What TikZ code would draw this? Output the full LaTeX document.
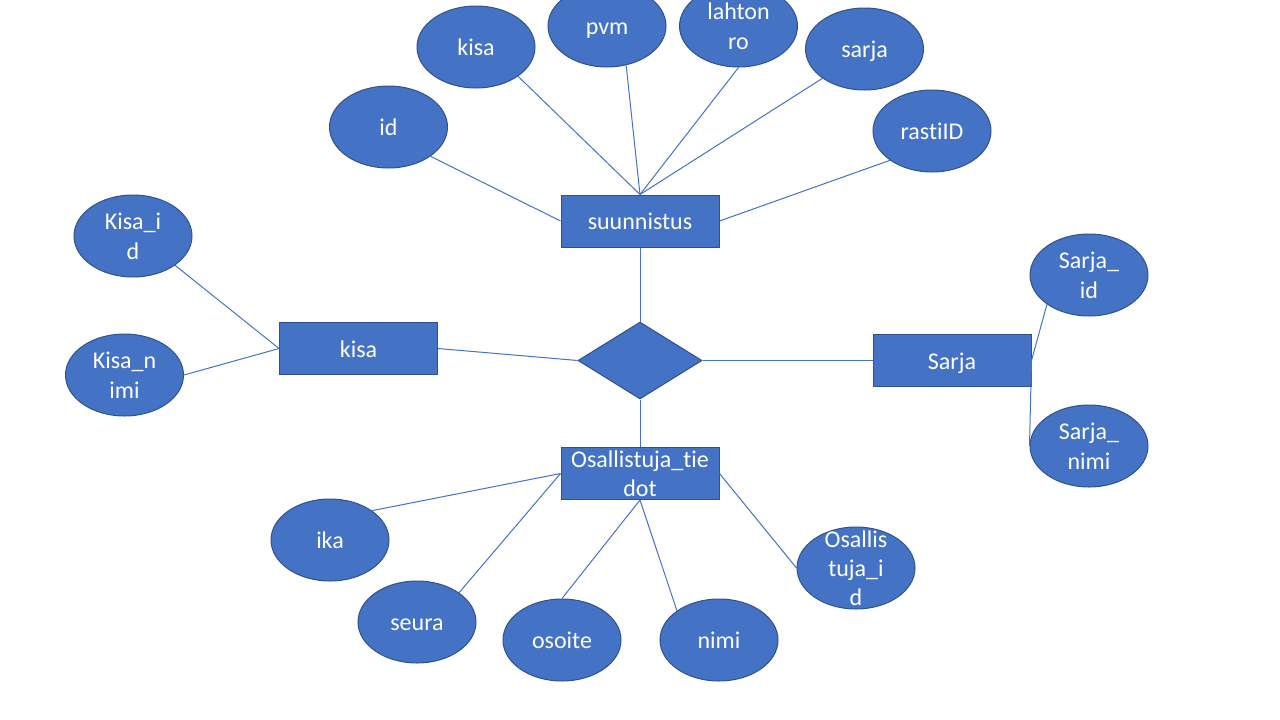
\documentclass[tikz,border=0pt]{standalone}
\usepackage{fontspec}
\setmainfont[Ligatures=NoCommon]{Carlito}
\usetikzlibrary{shapes.geometric}
\definecolor{pptblue}{HTML}{4472C4}
\definecolor{pptedge}{HTML}{2F528F}
\newcommand{\mystrut}{\rule[-5.4pt]{0pt}{22pt}}
\tikzset{
  txt/.style={text=white, font=\fontsize{24}{29.3}\selectfont, align=center, inner sep=0pt, yshift=-3pt},
  attr/.style={ellipse, draw=pptedge, fill=pptblue, line width=1pt, inner sep=0pt,
               minimum width=118pt, minimum height=82pt, label={[txt]center:#1}},
  ent/.style={rectangle, draw=pptedge, fill=pptblue, line width=1pt, inner sep=0pt,
              minimum width=158pt, minimum height=52pt, label={[txt]center:#1}},
  relbox/.style={diamond, draw=pptedge, fill=pptblue, line width=1pt, inner sep=0pt,
                 minimum width=124pt, minimum height=77pt},
  conn/.style={draw=pptblue, line width=1pt}
}
\begin{document}
\begin{tikzpicture}[x=1pt, y=-1pt]
\useasboundingbox (0,0) rectangle (1280,720);
\fill[white] (0,0) rectangle (1280,720);
\clip (0,0) rectangle (1280,720);

% entities and relationship
\node[ent={\mystrut suunnistus}] (s) at (640,221) {};
\node[relbox] (rel) at (640,360.5) {};
\node[ent={\mystrut kisa}] (kisa) at (358.5,348.5) {};
\node[ent={\mystrut Sarja}] (sarja) at (952,360.5) {};
\node[ent={\mystrut Osallistuja\_tie\\\mystrut dot}] (os) at (640,473.5) {};

% attributes
\node[attr={\mystrut id}] (id) at (388.5,127) {};
\node[attr={\mystrut kisa}] (kisaA) at (476,47) {};
\node[attr={\mystrut pvm}] (pvm) at (607,26) {};
\node[attr={\mystrut lahton\\\mystrut ro}] (lahto) at (738.5,26) {};
\node[attr={\mystrut sarja}] (sarjaA) at (864.5,49) {};
\node[attr={\mystrut rastiID}] (rasti) at (932,131) {};
\node[attr={\mystrut Kisa\_i\\\mystrut d}] (kid) at (133,236) {};
\node[attr={\mystrut Kisa\_n\\\mystrut imi}] (knimi) at (124.5,375) {};
\node[attr={\mystrut Sarja\_\\\mystrut id}] (sid) at (1089,275) {};
\node[attr={\mystrut Sarja\_\\\mystrut nimi}] (snimi) at (1089,446) {};
\node[attr={\mystrut ika}] (ika) at (330,540) {};
\node[attr={\mystrut seura}] (seura) at (417,622) {};
\node[attr={\mystrut osoite}] (osoite) at (562,640) {};
\node[attr={\mystrut nimi}] (nimi) at (719,640) {};
\node[attr={\mystrut Osallis\\\mystrut tuja\_i\\\mystrut d}] (oid) at (856,568) {};

% connectors
\draw[conn] (id.south east) -- (s.west);
\draw[conn] (kisaA.south east) -- (s.north);
\draw[conn] (pvm.-64) -- (s.north);
\draw[conn] (lahto.south) -- (s.north);
\draw[conn] (sarjaA.south west) -- (s.north);
\draw[conn] (rasti.south west) -- (s.east);
\draw[conn] (s.south) -- (rel.north);
\draw[conn] (kisa.east) -- (rel.west);
\draw[conn] (rel.east) -- (sarja.west);
\draw[conn] (rel.south) -- (os.north);
\draw[conn] (kid.south east) -- (kisa.west);
\draw[conn] (knimi.east) -- (kisa.west);
\draw[conn] (sid.south west) -- (sarja.east);
\draw[conn] (sarja.east) -- (snimi.west);
\draw[conn] (ika.north east) -- (os.west);
\draw[conn] (seura.north east) -- (os.west);
\draw[conn] (osoite.north) -- (os.south);
\draw[conn] (nimi.north west) -- (os.south);
\draw[conn] (oid.west) -- (os.east);
\end{tikzpicture}
\end{document}
